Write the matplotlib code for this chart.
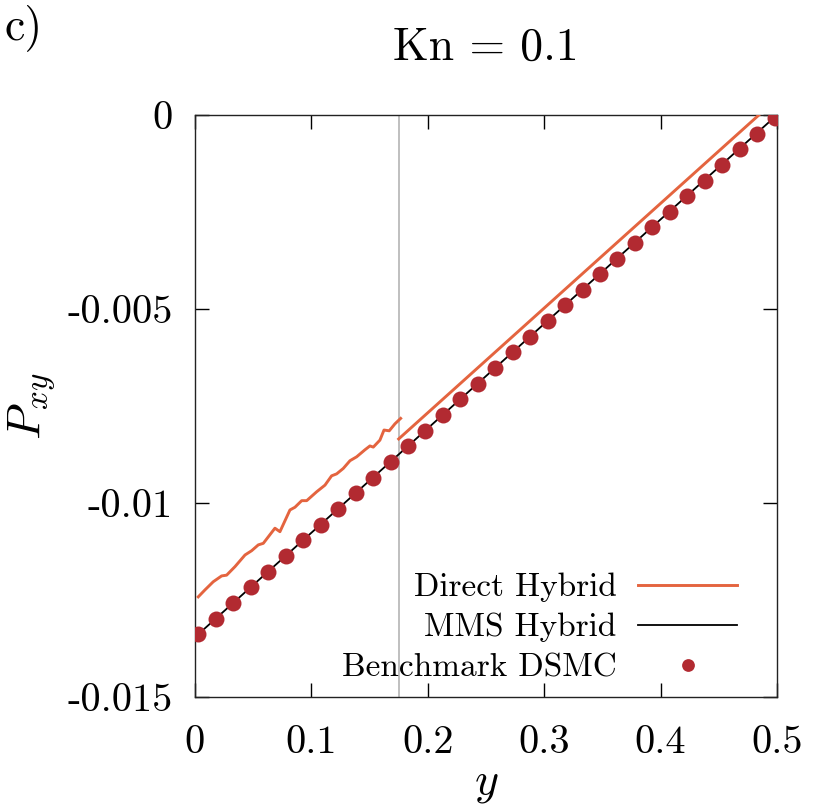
import numpy as np
import matplotlib
matplotlib.use("Agg")
import matplotlib.pyplot as plt

plt.rcParams['font.family'] = 'serif'
plt.rcParams['font.serif'] = ['cmr10']
plt.rcParams['mathtext.fontset'] = 'cm'
plt.rcParams['axes.unicode_minus'] = False
plt.rcParams['axes.formatter.use_mathtext'] = True

# Benchmark DSMC
dsmc_y = [0.003, 0.018, 0.033, 0.048, 0.063, 0.078, 0.093, 0.108, 0.123, 0.138,
          0.153, 0.168, 0.183, 0.198, 0.213, 0.228, 0.243, 0.258, 0.273, 0.288,
          0.303, 0.318, 0.333, 0.348, 0.363, 0.378, 0.393, 0.408, 0.423, 0.438,
          0.453, 0.468, 0.483, 0.498]
dsmc_p = [-0.01338, -0.01298, -0.01257, -0.01217, -0.01177, -0.01136, -0.01096,
          -0.01056, -0.01015, -0.00975, -0.00935, -0.00895, -0.00854, -0.00814,
          -0.00774, -0.00733, -0.00693, -0.00653, -0.00612, -0.00572, -0.00532,
          -0.00491, -0.00451, -0.00411, -0.00371, -0.00330, -0.00290, -0.00250,
          -0.00209, -0.00169, -0.00129, -0.00088, -0.00048, -0.00008]

# MMS hybrid
mms_y = [0.0, 0.5]
mms_p = [-0.01346, 0.0]

# Direct hybrid, particle part (left) and continuum part (right)
dir_y1 = [0.0028, 0.0086, 0.0157, 0.0229, 0.0272, 0.0344, 0.0430, 0.0487, 0.0544,
          0.0587, 0.0687, 0.0730, 0.0816, 0.0859, 0.0917, 0.0960, 0.1046, 0.1117,
          0.1174, 0.1217, 0.1274, 0.1332, 0.1389, 0.1460, 0.1503, 0.1532, 0.1589,
          0.1624, 0.1669, 0.1718, 0.1767]
dir_p1 = [-0.01242, -0.01224, -0.01203, -0.01188, -0.01186, -0.01164, -0.01134,
          -0.01123, -0.01108, -0.01104, -0.01065, -0.01074, -0.01018, -0.01011,
          -0.00994, -0.00994, -0.00971, -0.00954, -0.00930, -0.00925, -0.00911,
          -0.00891, -0.00881, -0.00863, -0.00853, -0.00856, -0.00838, -0.00812,
          -0.00814, -0.00796, -0.00782]
dir_y2 = [0.175, 0.4845]
dir_p2 = [-0.00835, 0.0]

interface = 0.175

xticks = [0, 0.1, 0.2, 0.3, 0.4, 0.5]
xlabels = ['0', '0.1', '0.2', '0.3', '0.4', '0.5']
yticks = [0, -0.005, -0.01, -0.015]
ylabels = ['0', '-0.005', '-0.01', '-0.015']

fig = plt.figure(figsize=(8.3, 8.08), dpi=100)
ax = fig.add_axes([0.2349, 0.1374, 0.7012, 0.7203])

ax.axvline(interface, color='#b4b4b4', lw=1.2, zorder=1)
ax.plot(dir_y1, dir_p1, color='#e4643f', lw=2.1, zorder=3, label='Direct Hybrid')
ax.plot(dir_y2, dir_p2, color='#e4643f', lw=2.1, zorder=3)
ax.plot(mms_y, mms_p, color='black', lw=1.3, zorder=2, label='MMS Hybrid')
ax.plot(dsmc_y, dsmc_p, 'o', color='#b22a31', ms=11.5, mew=0, zorder=4,
        label='Benchmark DSMC')

ax.set_xlim(0, 0.5)
ax.set_ylim(-0.015, 0)
ax.set_xticks(xticks)
ax.set_xticklabels(xlabels)
ax.set_yticks(yticks)
ax.set_yticklabels(ylabels)
ax.tick_params(direction='in', length=10, width=1.0, labelsize=29,
               top=True, right=True)
ax.tick_params(axis='x', pad=20)
ax.tick_params(axis='y', pad=16)
for s in ax.spines.values():
    s.set_linewidth(1.0)
    s.set_color('#222222')

ax.set_xlabel(r'$y$', fontsize=33, labelpad=2)
ax.set_ylabel(r'$P_{xy}$', fontsize=34, labelpad=7)
ax.set_title('Kn = 0.1', fontsize=33, pad=40)
fig.text(0.006, 0.995, 'c)', fontsize=33, ha='left', va='top')

leg = ax.legend(loc='lower right', bbox_to_anchor=(0.931, 0.025), frameon=False,
                markerfirst=False, fontsize=24, handlelength=2.95,
                handletextpad=0.66, labelspacing=0.32, borderpad=0,
                borderaxespad=0, numpoints=1, markerscale=0.8)
for t in leg.get_texts():
    t.set_ha('right')

fig.savefig('out.png', dpi=100)
